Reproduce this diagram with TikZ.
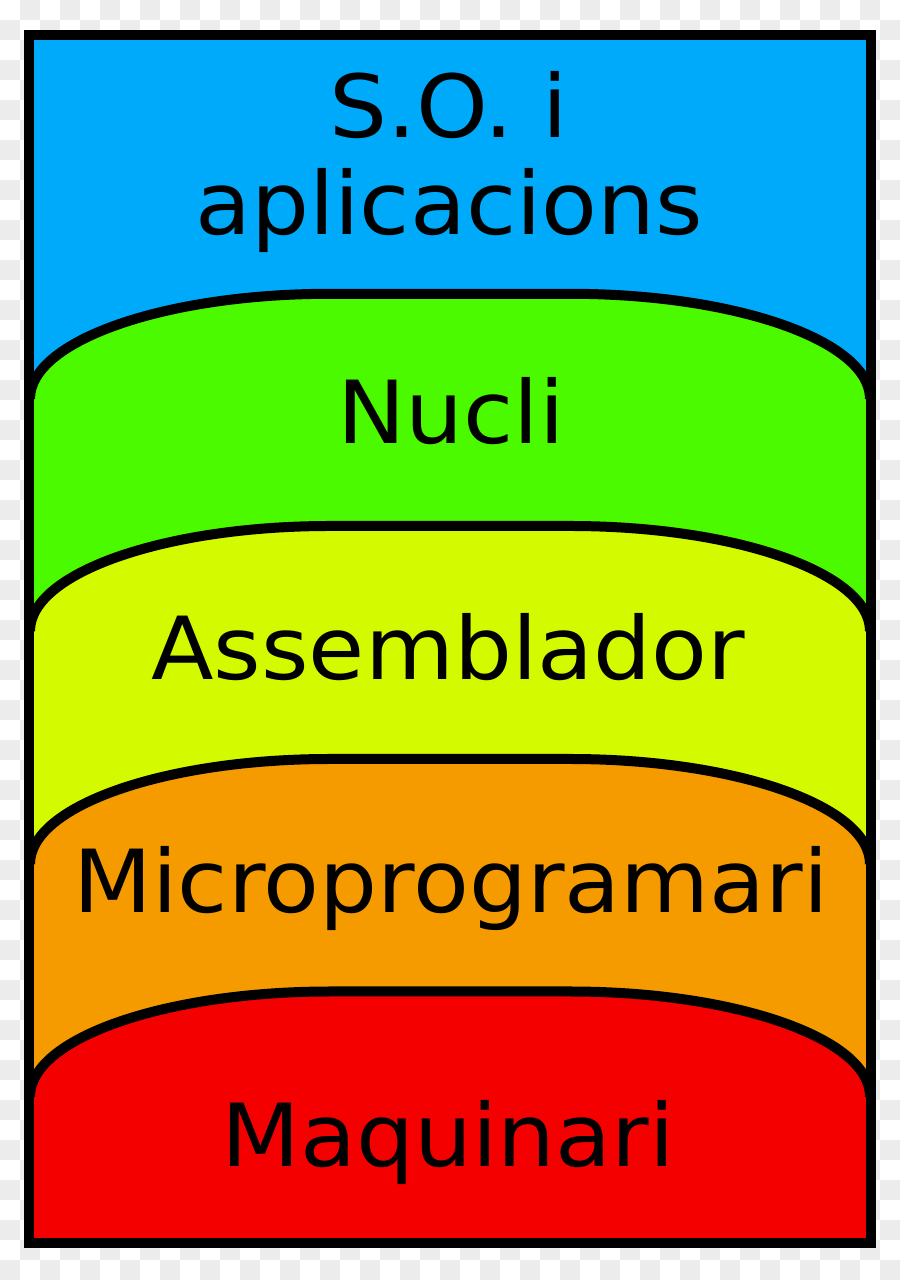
\documentclass[tikz,border=0pt]{standalone}
\usepackage{fontspec}
\newfontfamily\lblfont{DejaVu Sans}[FakeStretch=1.05]
\definecolor{chk}{RGB}{236,236,236}
\definecolor{lblue}{RGB}{0,170,250}
\definecolor{lgreen}{RGB}{76,250,0}
\definecolor{lyellow}{RGB}{212,250,0}
\definecolor{lorange}{RGB}{245,155,0}
\definecolor{lred}{RGB}{245,0,0}
\tikzset{
  lbl/.style={anchor=base, inner sep=0pt, font=\lblfont\fontsize{87}{97}\selectfont, text=black},
  edgeline/.style={draw=black, line width=10pt, line join=round},
}
\newcommand{\layer}[2]{% #1 colour, #2 top Y
  \fill[#1] (30,37) -- (30,#2-105) arc[start angle=180,end angle=90,x radius=300,y radius=105]
     -- (570,#2) arc[start angle=90,end angle=0,x radius=300,y radius=105] -- (870,37) -- cycle;
  \draw[edgeline] (30,#2-105) arc[start angle=180,end angle=90,x radius=300,y radius=105]
     -- (570,#2) arc[start angle=90,end angle=0,x radius=300,y radius=105];
}
\begin{document}
\begin{tikzpicture}[x=1pt,y=1pt]
\useasboundingbox (0,0) rectangle (900,1280);
\fill[white] (0,0) rectangle (900,1280);
% checkerboard background
\foreach \c in {0,...,44}{
  \foreach \r in {0,...,63}{
    \pgfmathtruncatemacro{\odd}{mod(\c+\r,2)}
    \ifnum\odd=1
      \fill[chk] (20*\c,1280-20*\r) rectangle ++(20,-20);
    \fi
  }
}
% base (blue) panel
\fill[lblue] (29,37) rectangle (871,1245);
\begin{scope}
\clip (29,37) rectangle (871,1245);
\layer{lgreen}{986.2}
\layer{lyellow}{754}
\layer{lorange}{521}
\layer{lred}{288.5}
\end{scope}
% outer frame
\draw[draw=black, line width=10pt] (29,37) rectangle (871,1245);
% labels
\node[lbl] (so1) at (449,1142) {S.O. i};
\node[lbl] (so2) at (449,1045) {aplicacions};
\node[lbl] (nucli) at (451,836) {Nucli};
\node[lbl] (assem) at (448,600) {Assemblador};
\node[lbl] (micro) at (451,367) {Microprogramari};
\node[lbl] (maqui) at (448,113) {Maquinari};
\end{tikzpicture}
\end{document}
